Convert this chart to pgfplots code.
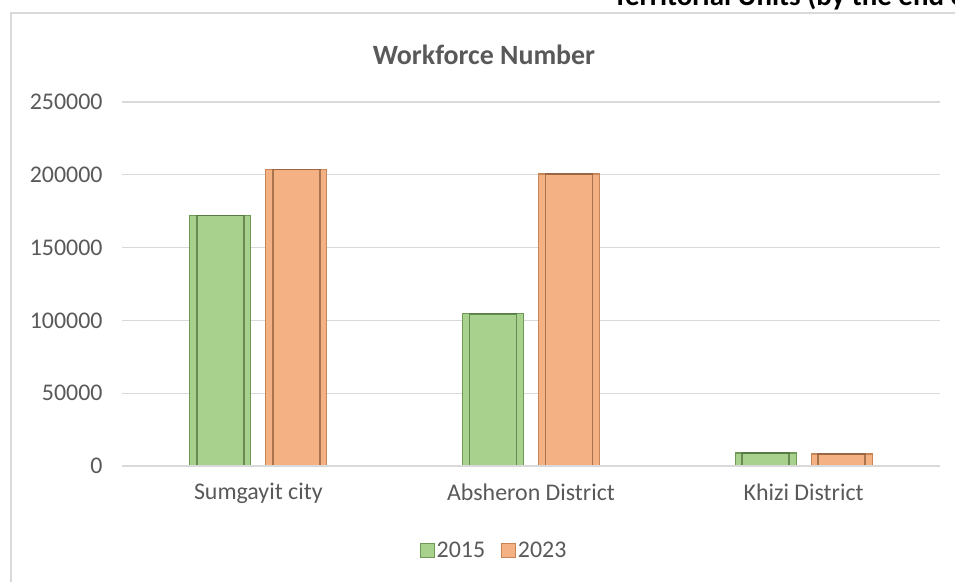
\documentclass[border=0pt]{standalone}
\usepackage{fontspec}
\setmainfont{Carlito}
\usepackage{pgfplots}
\pgfplotsset{compat=1.18}
\definecolor{txtgray}{HTML}{595959}
\definecolor{gridgray}{HTML}{D9D9D9}
\definecolor{gfill}{HTML}{A9D18E}
\definecolor{gedge}{HTML}{6F9A55}
\definecolor{ginner}{HTML}{4E6E3B}
\definecolor{ofill}{HTML}{F4B183}
\definecolor{oedge}{HTML}{C68557}
\definecolor{oinner}{HTML}{8A5A38}
\begin{document}
\begin{tikzpicture}
\useasboundingbox (0,0) rectangle (955bp,582bp);
\fill[white] (0,0) rectangle (955bp,582bp);
\draw[gridgray, line width=1.2bp] (11bp,-20bp) -- (11bp,569bp) -- (975bp,569bp);
\node[anchor=base west, font=\fontsize{29}{32}\selectfont\bfseries, text=black, inner sep=0pt] at (613bp,576bp) {Territorial Units (by the end of 2023)};
\node[font=\fontsize{28}{32}\selectfont\bfseries, text=txtgray] at (484bp,527bp) {Workforce Number};
\begin{axis}[
  at={(122bp,116bp)}, anchor=south west,
  width=818bp, height=364bp, scale only axis,
  xmin=-0.5, xmax=2.5, ymin=0, ymax=250000,
  ytick={0,50000,...,250000},
  xtick={0,1,2},
  xticklabels={Sumgayit city, Absheron District, Khizi District},
  scaled y ticks=false,
  yticklabel style={/pgf/number format/fixed, /pgf/number format/1000 sep={}, /pgf/number format/assume math mode=true, font=\fontsize{24}{28}\selectfont, text=txtgray},
  xticklabel style={font=\fontsize{24}{28}\selectfont, text=txtgray},
  ymajorgrids, grid style={gridgray, line width=1.2bp},
  axis line style={draw=none},
  axis x line*=bottom,
  major tick length=0pt,
  yticklabel style={xshift=-16bp},
  xticklabel style={yshift=-14bp},
  ybar,
  legend style={at={(0.455,-0.231)}, anchor=center, draw=none, fill=none, font=\fontsize{24}{28}\selectfont, text=txtgray, legend columns=2, /tikz/every even column/.append style={column sep=14bp}},
  legend image code/.code={\draw[#1, line width=0.8bp] (0bp,-7bp) rectangle (14bp,7bp);},
]
\addplot[fill=gfill, draw=gedge, line width=1.2bp, bar width=61bp, bar shift=-38bp] coordinates {(0,172000) (1,104500) (2,8900)};
\addplot[fill=ofill, draw=oedge, line width=1.2bp, bar width=61bp, bar shift=38bp] coordinates {(0,203800) (1,200500) (2,8200)};
\addplot[fill=none, draw=ginner, line width=1.4bp, bar width=47bp, bar shift=-38bp, forget plot, draw opacity=0.7] coordinates {(0,172000) (1,104500) (2,8900)};
\addplot[fill=none, draw=oinner, line width=1.4bp, bar width=47bp, bar shift=38bp, forget plot, draw opacity=0.7] coordinates {(0,203800) (1,200500) (2,8200)};
\draw[gridgray, line width=1.2bp] (axis cs:-0.5,0) -- (axis cs:2.5,0);
\legend{2015, 2023}
\end{axis}
\end{tikzpicture}
\end{document}
